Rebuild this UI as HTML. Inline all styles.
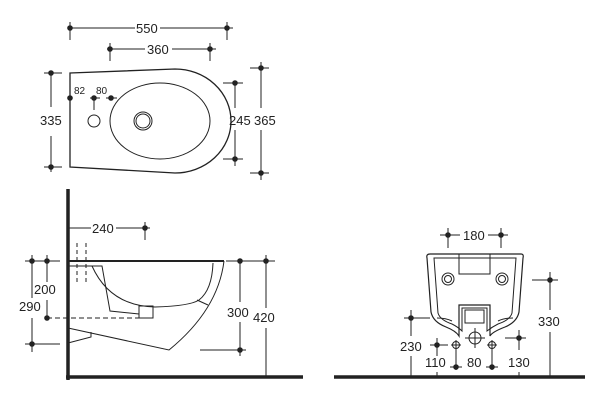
<!DOCTYPE html>
<html><head><style>
html,body{margin:0;padding:0;background:#fff;}
svg{display:block}
text{font-family:"Liberation Sans",sans-serif;fill:#222;}
</style></head><body>
<svg width="608" height="406" viewBox="0 0 608 406" xmlns="http://www.w3.org/2000/svg">
<g stroke="#222" fill="none" stroke-width="1">
<!-- TOP VIEW -->
<line x1="70" y1="28" x2="135" y2="28"/><line x1="160" y1="28" x2="233" y2="28"/>
<line x1="70" y1="22" x2="70" y2="40"/><line x1="227" y1="22" x2="227" y2="40"/>
<line x1="107" y1="49" x2="145" y2="49"/><line x1="172" y1="49" x2="216" y2="49"/>
<line x1="110" y1="43" x2="110" y2="61"/><line x1="210" y1="43" x2="210" y2="61"/>
<path d="M70 73 L175 69 A56 52 0 0 1 175 173 L70 167 Z" stroke-width="1.3"/>
<ellipse cx="160" cy="121" rx="50" ry="38"/>
<circle cx="143" cy="121" r="9"/><circle cx="143" cy="121" r="7"/>
<circle cx="94" cy="121" r="6"/>
<line x1="44" y1="73" x2="62" y2="73"/><line x1="44" y1="167" x2="62" y2="167"/>
<line x1="51" y1="73" x2="51" y2="107"/><line x1="51" y1="136" x2="51" y2="172"/>
<line x1="90" y1="98" x2="100" y2="98"/><line x1="94" y1="98" x2="94" y2="110"/><line x1="106" y1="98" x2="117" y2="98"/>
<line x1="223" y1="83" x2="243" y2="83"/><line x1="223" y1="159" x2="243" y2="159"/>
<line x1="235" y1="83" x2="235" y2="108"/><line x1="235" y1="130" x2="235" y2="166"/>
<line x1="250" y1="68" x2="269" y2="68"/><line x1="250" y1="173" x2="269" y2="173"/>
<line x1="261" y1="62" x2="261" y2="108"/><line x1="261" y1="130" x2="261" y2="180"/>
<!-- SIDE VIEW -->
<line x1="68" y1="189" x2="68" y2="380" stroke-width="3.5"/>
<line x1="66" y1="377" x2="303" y2="377" stroke-width="3.5"/>
<line x1="68" y1="261" x2="224" y2="261" stroke-width="2"/>
<line x1="68" y1="228" x2="91" y2="228"/><line x1="116" y1="228" x2="150" y2="228"/>
<line x1="145" y1="222" x2="145" y2="240"/>
<line x1="77" y1="243" x2="77" y2="282" stroke-dasharray="4 3"/><line x1="86" y1="243" x2="86" y2="282" stroke-dasharray="4 3"/>
<path d="M68 266 L102 266 L110 311 L139 314"/>
<rect x="139" y="306" width="14" height="12"/>
<path d="M92 266 Q110 306 155 307 Q190 306 199 300 Q212 290 213 263"/>
<path d="M197 300 L208 305"/>
<path d="M224 261 Q218 310 169 350 L68 328"/>
<path d="M68 343 L91 337 L91 332"/>
<line x1="47" y1="318" x2="140" y2="318" stroke-dasharray="5 3"/>
<line x1="25" y1="261" x2="60" y2="261"/><line x1="25" y1="344" x2="60" y2="344"/>
<line x1="32" y1="255" x2="32" y2="298"/><line x1="32" y1="318" x2="32" y2="352"/>
<line x1="47" y1="255" x2="47" y2="282"/><line x1="47" y1="300" x2="47" y2="318"/>
<line x1="226" y1="261" x2="275" y2="261"/>
<line x1="240" y1="261" x2="240" y2="302"/><line x1="240" y1="322" x2="240" y2="356"/>
<line x1="200" y1="350" x2="246" y2="350"/>
<line x1="266" y1="255" x2="266" y2="308"/><line x1="266" y1="328" x2="266" y2="377"/>
<!-- FRONT VIEW -->
<line x1="440" y1="235" x2="460" y2="235"/><line x1="488" y1="235" x2="508" y2="235"/>
<line x1="448" y1="228" x2="448" y2="248"/><line x1="501" y1="228" x2="501" y2="248"/>
<path d="M430 254 L521 254 Q524 254 523 258 L519 312 Q517 322 505 327 Q492 332 490 336 L490 305 L459 305 L459 336 Q456 331 446 327 Q433 322 431 312 L427 258 Q426 254 430 254 Z" stroke-width="1.2"/>
<path d="M434 258 L516 258 L512 313 Q510 320 498 324 Q492 327 487 331 L487 308 L462 308 L462 331 Q458 327 452 324 Q440 320 438 313 Z"/>
<path d="M437 318 Q446 318 452 321 M513 318 Q504 318 498 321"/>
<rect x="459" y="254" width="31" height="20"/>
<rect x="465" y="310" width="19" height="13"/>
<circle cx="448" cy="279" r="6"/><circle cx="448" cy="279" r="3.5"/>
<circle cx="502" cy="279" r="6"/><circle cx="502" cy="279" r="3.5"/>
<circle cx="475" cy="338" r="6"/><line x1="465" y1="338" x2="485" y2="338"/><line x1="475" y1="328" x2="475" y2="348"/>
<circle cx="456" cy="345" r="3.5"/><line x1="451" y1="345" x2="461" y2="345"/><line x1="456" y1="340" x2="456" y2="350"/>
<circle cx="492" cy="345" r="3.5"/><line x1="487" y1="345" x2="497" y2="345"/><line x1="492" y1="340" x2="492" y2="350"/>
<line x1="334" y1="377" x2="585" y2="377" stroke-width="3.5"/>
<line x1="404" y1="318" x2="430" y2="318"/>
<line x1="411" y1="310" x2="411" y2="336"/><line x1="411" y1="356" x2="411" y2="377"/>
<line x1="430" y1="345" x2="448" y2="345"/><line x1="437" y1="338" x2="437" y2="356"/><line x1="437" y1="372" x2="437" y2="377"/>
<line x1="456" y1="350" x2="456" y2="370"/><line x1="450" y1="367" x2="462" y2="367"/>
<line x1="492" y1="350" x2="492" y2="370"/><line x1="486" y1="367" x2="498" y2="367"/>
<line x1="505" y1="338" x2="526" y2="338"/><line x1="519" y1="330" x2="519" y2="350"/><line x1="519" y1="372" x2="519" y2="377"/>
<line x1="532" y1="280" x2="558" y2="280"/>
<line x1="550" y1="272" x2="550" y2="310"/><line x1="550" y1="332" x2="550" y2="377"/>
</g>
<g fill="#222">
<circle cx="70" cy="28" r="2.8"/><circle cx="227" cy="28" r="2.8"/>
<circle cx="110" cy="49" r="2.8"/><circle cx="210" cy="49" r="2.8"/>
<circle cx="51" cy="73" r="2.8"/><circle cx="51" cy="167" r="2.8"/>
<circle cx="70" cy="98" r="2.8"/><circle cx="94" cy="98" r="2.8"/><circle cx="111" cy="98" r="2.8"/>
<circle cx="235" cy="83" r="2.8"/><circle cx="235" cy="159" r="2.8"/>
<circle cx="261" cy="68" r="2.8"/><circle cx="261" cy="173" r="2.8"/>
<circle cx="145" cy="228" r="2.8"/>
<circle cx="32" cy="261" r="2.8"/><circle cx="47" cy="261" r="2.8"/><circle cx="47" cy="318" r="2.8"/><circle cx="32" cy="344" r="2.8"/>
<circle cx="240" cy="261" r="2.8"/><circle cx="266" cy="261" r="2.8"/><circle cx="240" cy="350" r="2.8"/>
<circle cx="448" cy="235" r="2.8"/><circle cx="501" cy="235" r="2.8"/>
<circle cx="411" cy="318" r="2.8"/><circle cx="437" cy="345" r="2.8"/><circle cx="519" cy="338" r="2.8"/><circle cx="550" cy="280" r="2.8"/>
<circle cx="456" cy="367" r="2.8"/><circle cx="492" cy="367" r="2.8"/>
</g>
<g font-size="13">
<text x="136" y="33">550</text>
<text x="147" y="54">360</text>
<text x="40" y="125">335</text>
<text x="229" y="125">245</text>
<text x="254" y="125">365</text>
<text x="74" y="94" font-size="10">82</text>
<text x="96" y="94" font-size="10">80</text>
<text x="92" y="233">240</text>
<text x="34" y="294">200</text>
<text x="19" y="311">290</text>
<text x="227" y="317">300</text>
<text x="253" y="322">420</text>
<text x="463" y="240">180</text>
<text x="400" y="351">230</text>
<text x="425" y="367">110</text>
<text x="467" y="367">80</text>
<text x="508" y="367">130</text>
<text x="538" y="326">330</text>
</g>
</svg>
</body></html>
